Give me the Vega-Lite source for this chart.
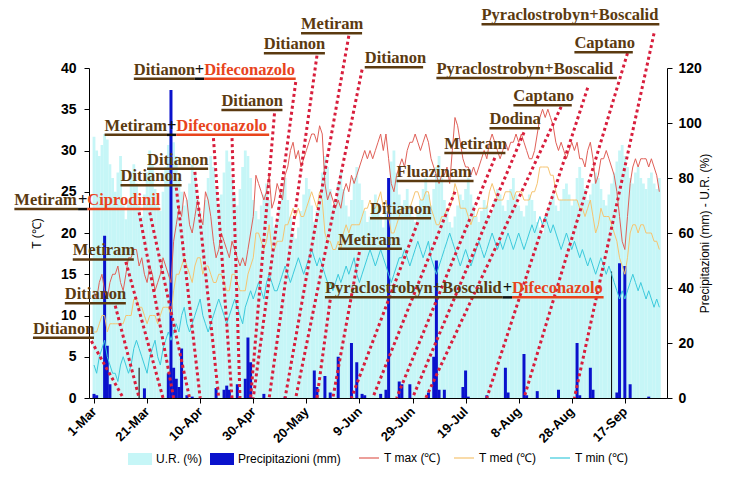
{
"$schema":"https://vega.github.io/schema/vega-lite/v6.json",
"width":578,"height":330,
"autosize":{"type":"none"},
"padding":{"left":89,"top":68,"right":68,"bottom":100},
"config":{
 "view":{"stroke":null},
 "font":"Liberation Sans",
 "axis":{"domainColor":"#000","tickColor":"#000","tickSize":5,"labelColor":"#000","labelFont":"Liberation Sans","labelFontWeight":"bold","labelFontSize":14,"titleFont":"Liberation Sans","titleFontWeight":"normal","titleFontSize":12,"titleColor":"#000","grid":false},
 "axisX":{"labelFontSize":13,"labelAngle":-45},
 "legend":{"labelFont":"Liberation Sans","labelFontSize":12,"labelColor":"#000"}
},
"datasets":{
"daily":[
{"date":"2009-03-01","tmax":13,"tmed":8,"tmin":4,"ur":95,"rain":1.5},
{"date":"2009-03-02","tmax":12,"tmed":8,"tmin":3,"ur":90,"rain":1},
{"date":"2009-03-03","tmax":14,"tmed":9,"tmin":5,"ur":88,"rain":0},
{"date":"2009-03-04","tmax":15,"tmed":10,"tmin":6,"ur":92,"rain":0},
{"date":"2009-03-05","tmax":13,"tmed":10,"tmin":7,"ur":96,"rain":59},
{"date":"2009-03-06","tmax":12,"tmed":8,"tmin":5,"ur":94,"rain":19},
{"date":"2009-03-07","tmax":14,"tmed":9,"tmin":4,"ur":85,"rain":5},
{"date":"2009-03-08","tmax":15,"tmed":9,"tmin":3,"ur":80,"rain":0},
{"date":"2009-03-09","tmax":15,"tmed":9,"tmin":3,"ur":75,"rain":0},
{"date":"2009-03-10","tmax":16,"tmed":9,"tmin":2,"ur":82,"rain":0},
{"date":"2009-03-11","tmax":14,"tmed":9,"tmin":4,"ur":88,"rain":0},
{"date":"2009-03-12","tmax":13,"tmed":9,"tmin":5,"ur":70,"rain":0},
{"date":"2009-03-13","tmax":15,"tmed":10,"tmin":4,"ur":65,"rain":0},
{"date":"2009-03-14","tmax":17,"tmed":10,"tmin":3,"ur":72,"rain":0},
{"date":"2009-03-15","tmax":17,"tmed":10,"tmin":4,"ur":80,"rain":0},
{"date":"2009-03-16","tmax":18,"tmed":12,"tmin":6,"ur":85,"rain":0},
{"date":"2009-03-17","tmax":18,"tmed":12,"tmin":7,"ur":78,"rain":0},
{"date":"2009-03-18","tmax":16,"tmed":11,"tmin":6,"ur":70,"rain":0},
{"date":"2009-03-19","tmax":17,"tmed":11,"tmin":5,"ur":66,"rain":0},
{"date":"2009-03-20","tmax":15,"tmed":10,"tmin":4,"ur":74,"rain":3.5},
{"date":"2009-03-21","tmax":14,"tmed":9,"tmin":3,"ur":82,"rain":0},
{"date":"2009-03-22","tmax":16,"tmed":10,"tmin":5,"ur":90,"rain":0},
{"date":"2009-03-23","tmax":15,"tmed":10,"tmin":6,"ur":85,"rain":0},
{"date":"2009-03-24","tmax":13,"tmed":10,"tmin":7,"ur":76,"rain":0},
{"date":"2009-03-25","tmax":14,"tmed":9,"tmin":5,"ur":70,"rain":0},
{"date":"2009-03-26","tmax":15,"tmed":10,"tmin":4,"ur":68,"rain":0},
{"date":"2009-03-27","tmax":17,"tmed":11,"tmin":6,"ur":75,"rain":0},
{"date":"2009-03-28","tmax":16,"tmed":11,"tmin":7,"ur":84,"rain":0},
{"date":"2009-03-29","tmax":15,"tmed":11,"tmin":8,"ur":92,"rain":9},
{"date":"2009-03-30","tmax":14,"tmed":10,"tmin":7,"ur":96,"rain":112},
{"date":"2009-03-31","tmax":19,"tmed":13,"tmin":8,"ur":93,"rain":11},
{"date":"2009-04-01","tmax":21,"tmed":15,"tmin":9,"ur":88,"rain":7},
{"date":"2009-04-02","tmax":23,"tmed":15,"tmin":8,"ur":80,"rain":4},
{"date":"2009-04-03","tmax":22,"tmed":16,"tmin":10,"ur":75,"rain":18},
{"date":"2009-04-04","tmax":25,"tmed":17,"tmin":11,"ur":70,"rain":0},
{"date":"2009-04-05","tmax":24,"tmed":16,"tmin":9,"ur":72,"rain":1},
{"date":"2009-04-06","tmax":21,"tmed":15,"tmin":8,"ur":78,"rain":0},
{"date":"2009-04-07","tmax":20,"tmed":14,"tmin":9,"ur":85,"rain":0.5},
{"date":"2009-04-08","tmax":22,"tmed":16,"tmin":10,"ur":82,"rain":0},
{"date":"2009-04-09","tmax":24,"tmed":17,"tmin":11,"ur":74,"rain":0},
{"date":"2009-04-10","tmax":22,"tmed":17,"tmin":12,"ur":68,"rain":0},
{"date":"2009-04-11","tmax":21,"tmed":15,"tmin":10,"ur":65,"rain":0},
{"date":"2009-04-12","tmax":25,"tmed":16,"tmin":9,"ur":72,"rain":0},
{"date":"2009-04-13","tmax":24,"tmed":16,"tmin":8,"ur":80,"rain":0},
{"date":"2009-04-14","tmax":22,"tmed":15,"tmin":9,"ur":88,"rain":0},
{"date":"2009-04-15","tmax":19,"tmed":14,"tmin":10,"ur":84,"rain":0},
{"date":"2009-04-16","tmax":17,"tmed":14,"tmin":11,"ur":76,"rain":3.6},
{"date":"2009-04-17","tmax":18,"tmed":15,"tmin":12,"ur":70,"rain":0},
{"date":"2009-04-18","tmax":20,"tmed":15,"tmin":11,"ur":74,"rain":0},
{"date":"2009-04-19","tmax":19,"tmed":14,"tmin":10,"ur":82,"rain":3},
{"date":"2009-04-20","tmax":18,"tmed":13,"tmin":9,"ur":90,"rain":4.5},
{"date":"2009-04-21","tmax":17,"tmed":13,"tmin":10,"ur":86,"rain":3},
{"date":"2009-04-22","tmax":19,"tmed":15,"tmin":11,"ur":80,"rain":0},
{"date":"2009-04-23","tmax":18,"tmed":15,"tmin":12,"ur":74,"rain":0},
{"date":"2009-04-24","tmax":17,"tmed":14,"tmin":11,"ur":70,"rain":5},
{"date":"2009-04-25","tmax":16,"tmed":13,"tmin":10,"ur":76,"rain":0},
{"date":"2009-04-26","tmax":17,"tmed":13,"tmin":9,"ur":84,"rain":0},
{"date":"2009-04-27","tmax":16,"tmed":13,"tmin":11,"ur":90,"rain":7},
{"date":"2009-04-28","tmax":18,"tmed":15,"tmin":12,"ur":88,"rain":22},
{"date":"2009-04-29","tmax":20,"tmed":16,"tmin":13,"ur":80,"rain":13},
{"date":"2009-04-30","tmax":22,"tmed":17,"tmin":12,"ur":72,"rain":0},
{"date":"2009-05-01","tmax":27,"tmed":20,"tmin":13,"ur":68,"rain":0},
{"date":"2009-05-02","tmax":26,"tmed":20,"tmin":14,"ur":65,"rain":0},
{"date":"2009-05-03","tmax":25,"tmed":19,"tmin":13,"ur":70,"rain":0},
{"date":"2009-05-04","tmax":24,"tmed":18,"tmin":12,"ur":74,"rain":1.5},
{"date":"2009-05-05","tmax":25,"tmed":19,"tmin":14,"ur":78,"rain":0},
{"date":"2009-05-06","tmax":27,"tmed":21,"tmin":15,"ur":72,"rain":0},
{"date":"2009-05-07","tmax":23,"tmed":18,"tmin":14,"ur":66,"rain":0},
{"date":"2009-05-08","tmax":24,"tmed":18,"tmin":13,"ur":62,"rain":0},
{"date":"2009-05-09","tmax":26,"tmed":19,"tmin":13,"ur":64,"rain":0},
{"date":"2009-05-10","tmax":25,"tmed":19,"tmin":14,"ur":70,"rain":0},
{"date":"2009-05-11","tmax":24,"tmed":19,"tmin":15,"ur":75,"rain":0},
{"date":"2009-05-12","tmax":27,"tmed":21,"tmin":16,"ur":80,"rain":0.5},
{"date":"2009-05-13","tmax":28,"tmed":21,"tmin":15,"ur":72,"rain":0},
{"date":"2009-05-14","tmax":30,"tmed":22,"tmin":14,"ur":66,"rain":0},
{"date":"2009-05-15","tmax":31,"tmed":23,"tmin":15,"ur":60,"rain":0},
{"date":"2009-05-16","tmax":29,"tmed":22,"tmin":16,"ur":58,"rain":0},
{"date":"2009-05-17","tmax":30,"tmed":23,"tmin":17,"ur":62,"rain":0},
{"date":"2009-05-18","tmax":28,"tmed":22,"tmin":16,"ur":68,"rain":0},
{"date":"2009-05-19","tmax":29,"tmed":22,"tmin":15,"ur":74,"rain":0},
{"date":"2009-05-20","tmax":30,"tmed":23,"tmin":16,"ur":80,"rain":0},
{"date":"2009-05-21","tmax":31,"tmed":24,"tmin":17,"ur":76,"rain":0},
{"date":"2009-05-22","tmax":32,"tmed":25,"tmin":18,"ur":70,"rain":0},
{"date":"2009-05-23","tmax":32,"tmed":24,"tmin":17,"ur":64,"rain":10},
{"date":"2009-05-24","tmax":31,"tmed":23,"tmin":16,"ur":68,"rain":4},
{"date":"2009-05-25","tmax":33,"tmed":25,"tmin":17,"ur":74,"rain":0},
{"date":"2009-05-26","tmax":32,"tmed":24,"tmin":16,"ur":82,"rain":0},
{"date":"2009-05-27","tmax":26,"tmed":20,"tmin":15,"ur":88,"rain":8},
{"date":"2009-05-28","tmax":24,"tmed":19,"tmin":14,"ur":84,"rain":0},
{"date":"2009-05-29","tmax":25,"tmed":19,"tmin":14,"ur":76,"rain":2},
{"date":"2009-05-30","tmax":24,"tmed":18,"tmin":13,"ur":70,"rain":0},
{"date":"2009-05-31","tmax":23,"tmed":18,"tmin":14,"ur":72,"rain":0},
{"date":"2009-06-01","tmax":24,"tmed":19,"tmin":15,"ur":78,"rain":15},
{"date":"2009-06-02","tmax":23,"tmed":18,"tmin":14,"ur":82,"rain":0},
{"date":"2009-06-03","tmax":25,"tmed":20,"tmin":15,"ur":76,"rain":0},
{"date":"2009-06-04","tmax":26,"tmed":21,"tmin":16,"ur":70,"rain":0},
{"date":"2009-06-05","tmax":25,"tmed":20,"tmin":15,"ur":66,"rain":0},
{"date":"2009-06-06","tmax":27,"tmed":21,"tmin":16,"ur":72,"rain":20},
{"date":"2009-06-07","tmax":26,"tmed":21,"tmin":17,"ur":80,"rain":0},
{"date":"2009-06-08","tmax":27,"tmed":21,"tmin":15,"ur":84,"rain":13},
{"date":"2009-06-09","tmax":28,"tmed":21,"tmin":14,"ur":78,"rain":0},
{"date":"2009-06-10","tmax":29,"tmed":22,"tmin":15,"ur":72,"rain":1.5},
{"date":"2009-06-11","tmax":30,"tmed":23,"tmin":16,"ur":68,"rain":1},
{"date":"2009-06-12","tmax":29,"tmed":23,"tmin":17,"ur":64,"rain":0},
{"date":"2009-06-13","tmax":30,"tmed":24,"tmin":18,"ur":66,"rain":0},
{"date":"2009-06-14","tmax":29,"tmed":23,"tmin":17,"ur":70,"rain":0},
{"date":"2009-06-15","tmax":30,"tmed":23,"tmin":16,"ur":74,"rain":0},
{"date":"2009-06-16","tmax":31,"tmed":24,"tmin":17,"ur":70,"rain":0},
{"date":"2009-06-17","tmax":32,"tmed":25,"tmin":18,"ur":66,"rain":1.5},
{"date":"2009-06-18","tmax":30,"tmed":23,"tmin":17,"ur":62,"rain":0},
{"date":"2009-06-19","tmax":32,"tmed":24,"tmin":16,"ur":68,"rain":3},
{"date":"2009-06-20","tmax":29,"tmed":22,"tmin":15,"ur":76,"rain":80},
{"date":"2009-06-21","tmax":26,"tmed":20,"tmin":14,"ur":86,"rain":0},
{"date":"2009-06-22","tmax":25,"tmed":20,"tmin":15,"ur":90,"rain":0},
{"date":"2009-06-23","tmax":27,"tmed":21,"tmin":16,"ur":82,"rain":0},
{"date":"2009-06-24","tmax":28,"tmed":22,"tmin":17,"ur":74,"rain":6},
{"date":"2009-06-25","tmax":29,"tmed":23,"tmin":17,"ur":70,"rain":5},
{"date":"2009-06-26","tmax":28,"tmed":23,"tmin":18,"ur":72,"rain":0},
{"date":"2009-06-27","tmax":30,"tmed":23,"tmin":17,"ur":76,"rain":0},
{"date":"2009-06-28","tmax":31,"tmed":23,"tmin":16,"ur":70,"rain":5},
{"date":"2009-06-29","tmax":31,"tmed":24,"tmin":17,"ur":66,"rain":0},
{"date":"2009-06-30","tmax":32,"tmed":25,"tmin":18,"ur":64,"rain":0},
{"date":"2009-07-01","tmax":31,"tmed":25,"tmin":19,"ur":68,"rain":0},
{"date":"2009-07-02","tmax":30,"tmed":24,"tmin":18,"ur":72,"rain":0},
{"date":"2009-07-03","tmax":31,"tmed":24,"tmin":17,"ur":76,"rain":0},
{"date":"2009-07-04","tmax":32,"tmed":25,"tmin":18,"ur":80,"rain":0},
{"date":"2009-07-05","tmax":31,"tmed":25,"tmin":19,"ur":74,"rain":2},
{"date":"2009-07-06","tmax":29,"tmed":23,"tmin":17,"ur":70,"rain":0},
{"date":"2009-07-07","tmax":28,"tmed":22,"tmin":16,"ur":76,"rain":15},
{"date":"2009-07-08","tmax":27,"tmed":21,"tmin":15,"ur":84,"rain":50},
{"date":"2009-07-09","tmax":26,"tmed":21,"tmin":16,"ur":88,"rain":3},
{"date":"2009-07-10","tmax":27,"tmed":22,"tmin":17,"ur":80,"rain":0},
{"date":"2009-07-11","tmax":27,"tmed":22,"tmin":18,"ur":72,"rain":3},
{"date":"2009-07-12","tmax":28,"tmed":23,"tmin":19,"ur":68,"rain":0},
{"date":"2009-07-13","tmax":26,"tmed":23,"tmin":20,"ur":64,"rain":0},
{"date":"2009-07-14","tmax":30,"tmed":24,"tmin":19,"ur":62,"rain":0},
{"date":"2009-07-15","tmax":34,"tmed":26,"tmin":18,"ur":66,"rain":0},
{"date":"2009-07-16","tmax":33,"tmed":25,"tmin":17,"ur":70,"rain":0},
{"date":"2009-07-17","tmax":31,"tmed":23,"tmin":16,"ur":74,"rain":0},
{"date":"2009-07-18","tmax":29,"tmed":23,"tmin":17,"ur":72,"rain":4},
{"date":"2009-07-19","tmax":28,"tmed":23,"tmin":18,"ur":76,"rain":10},
{"date":"2009-07-20","tmax":28,"tmed":22,"tmin":17,"ur":80,"rain":0.5},
{"date":"2009-07-21","tmax":27,"tmed":21,"tmin":16,"ur":74,"rain":0},
{"date":"2009-07-22","tmax":28,"tmed":22,"tmin":17,"ur":70,"rain":0},
{"date":"2009-07-23","tmax":27,"tmed":22,"tmin":18,"ur":66,"rain":0},
{"date":"2009-07-24","tmax":28,"tmed":23,"tmin":19,"ur":64,"rain":0},
{"date":"2009-07-25","tmax":29,"tmed":23,"tmin":18,"ur":68,"rain":0},
{"date":"2009-07-26","tmax":30,"tmed":23,"tmin":17,"ur":72,"rain":0},
{"date":"2009-07-27","tmax":29,"tmed":23,"tmin":18,"ur":70,"rain":1},
{"date":"2009-07-28","tmax":31,"tmed":25,"tmin":19,"ur":66,"rain":0},
{"date":"2009-07-29","tmax":32,"tmed":26,"tmin":20,"ur":68,"rain":0},
{"date":"2009-07-30","tmax":31,"tmed":25,"tmin":19,"ur":72,"rain":0},
{"date":"2009-07-31","tmax":30,"tmed":24,"tmin":18,"ur":76,"rain":0},
{"date":"2009-08-01","tmax":29,"tmed":24,"tmin":19,"ur":74,"rain":0},
{"date":"2009-08-02","tmax":30,"tmed":24,"tmin":18,"ur":70,"rain":0},
{"date":"2009-08-03","tmax":31,"tmed":25,"tmin":19,"ur":68,"rain":11},
{"date":"2009-08-04","tmax":30,"tmed":25,"tmin":20,"ur":72,"rain":2},
{"date":"2009-08-05","tmax":31,"tmed":25,"tmin":19,"ur":76,"rain":0},
{"date":"2009-08-06","tmax":31,"tmed":24,"tmin":18,"ur":80,"rain":0},
{"date":"2009-08-07","tmax":32,"tmed":25,"tmin":19,"ur":74,"rain":0},
{"date":"2009-08-08","tmax":31,"tmed":25,"tmin":20,"ur":70,"rain":0},
{"date":"2009-08-09","tmax":32,"tmed":25,"tmin":19,"ur":68,"rain":0},
{"date":"2009-08-10","tmax":31,"tmed":24,"tmin":18,"ur":66,"rain":16},
{"date":"2009-08-11","tmax":30,"tmed":24,"tmin":19,"ur":70,"rain":1},
{"date":"2009-08-12","tmax":29,"tmed":24,"tmin":20,"ur":74,"rain":0},
{"date":"2009-08-13","tmax":29,"tmed":25,"tmin":21,"ur":72,"rain":0},
{"date":"2009-08-14","tmax":30,"tmed":25,"tmin":20,"ur":68,"rain":0},
{"date":"2009-08-15","tmax":32,"tmed":26,"tmin":21,"ur":64,"rain":2.5},
{"date":"2009-08-16","tmax":34,"tmed":28,"tmin":22,"ur":62,"rain":0},
{"date":"2009-08-17","tmax":35,"tmed":28,"tmin":21,"ur":60,"rain":0},
{"date":"2009-08-18","tmax":34,"tmed":28,"tmin":22,"ur":64,"rain":0},
{"date":"2009-08-19","tmax":35,"tmed":28,"tmin":21,"ur":68,"rain":0},
{"date":"2009-08-20","tmax":34,"tmed":27,"tmin":20,"ur":72,"rain":0},
{"date":"2009-08-21","tmax":33,"tmed":27,"tmin":21,"ur":74,"rain":0},
{"date":"2009-08-22","tmax":31,"tmed":25,"tmin":20,"ur":70,"rain":0},
{"date":"2009-08-23","tmax":30,"tmed":24,"tmin":19,"ur":68,"rain":3},
{"date":"2009-08-24","tmax":31,"tmed":24,"tmin":18,"ur":72,"rain":0},
{"date":"2009-08-25","tmax":30,"tmed":24,"tmin":19,"ur":76,"rain":0},
{"date":"2009-08-26","tmax":29,"tmed":24,"tmin":20,"ur":78,"rain":0},
{"date":"2009-08-27","tmax":30,"tmed":24,"tmin":19,"ur":74,"rain":0},
{"date":"2009-08-28","tmax":31,"tmed":24,"tmin":18,"ur":70,"rain":0},
{"date":"2009-08-29","tmax":30,"tmed":24,"tmin":19,"ur":72,"rain":0},
{"date":"2009-08-30","tmax":31,"tmed":24,"tmin":18,"ur":80,"rain":20},
{"date":"2009-08-31","tmax":29,"tmed":23,"tmin":17,"ur":84,"rain":1},
{"date":"2009-09-01","tmax":29,"tmed":23,"tmin":18,"ur":80,"rain":0},
{"date":"2009-09-02","tmax":28,"tmed":22,"tmin":17,"ur":76,"rain":0},
{"date":"2009-09-03","tmax":30,"tmed":23,"tmin":16,"ur":72,"rain":0},
{"date":"2009-09-04","tmax":31,"tmed":24,"tmin":17,"ur":74,"rain":11},
{"date":"2009-09-05","tmax":29,"tmed":22,"tmin":16,"ur":78,"rain":3},
{"date":"2009-09-06","tmax":26,"tmed":20,"tmin":15,"ur":82,"rain":0},
{"date":"2009-09-07","tmax":27,"tmed":21,"tmin":16,"ur":80,"rain":0},
{"date":"2009-09-08","tmax":29,"tmed":23,"tmin":17,"ur":76,"rain":0},
{"date":"2009-09-09","tmax":29,"tmed":22,"tmin":16,"ur":72,"rain":0},
{"date":"2009-09-10","tmax":30,"tmed":22,"tmin":15,"ur":70,"rain":0},
{"date":"2009-09-11","tmax":29,"tmed":22,"tmin":16,"ur":74,"rain":0},
{"date":"2009-09-12","tmax":28,"tmed":21,"tmin":15,"ur":78,"rain":0},
{"date":"2009-09-13","tmax":27,"tmed":20,"tmin":14,"ur":82,"rain":0},
{"date":"2009-09-14","tmax":25,"tmed":19,"tmin":13,"ur":86,"rain":2},
{"date":"2009-09-15","tmax":22,"tmed":17,"tmin":12,"ur":90,"rain":49},
{"date":"2009-09-16","tmax":19,"tmed":16,"tmin":13,"ur":92,"rain":0},
{"date":"2009-09-17","tmax":18,"tmed":15,"tmin":12,"ur":88,"rain":48},
{"date":"2009-09-18","tmax":22,"tmed":17,"tmin":13,"ur":84,"rain":0},
{"date":"2009-09-19","tmax":26,"tmed":20,"tmin":14,"ur":80,"rain":5},
{"date":"2009-09-20","tmax":28,"tmed":21,"tmin":15,"ur":78,"rain":0},
{"date":"2009-09-21","tmax":29,"tmed":21,"tmin":14,"ur":82,"rain":0},
{"date":"2009-09-22","tmax":28,"tmed":20,"tmin":13,"ur":84,"rain":0},
{"date":"2009-09-23","tmax":29,"tmed":21,"tmin":14,"ur":80,"rain":0},
{"date":"2009-09-24","tmax":29,"tmed":21,"tmin":13,"ur":78,"rain":0},
{"date":"2009-09-25","tmax":29,"tmed":20,"tmin":12,"ur":76,"rain":0},
{"date":"2009-09-26","tmax":28,"tmed":20,"tmin":13,"ur":80,"rain":0.5},
{"date":"2009-09-27","tmax":29,"tmed":20,"tmin":12,"ur":82,"rain":0},
{"date":"2009-09-28","tmax":28,"tmed":19,"tmin":11,"ur":78,"rain":0},
{"date":"2009-09-29","tmax":27,"tmed":19,"tmin":12,"ur":76,"rain":0},
{"date":"2009-09-30","tmax":25,"tmed":18,"tmin":11,"ur":80,"rain":0}
],
"marks":[
{"date":"2009-03-18","value":11},
{"date":"2009-09-12","value":46}
],
"treat":[
{"from":"2009-02-28","fromT":6.9,"to":"2009-03-12"},
{"from":"2009-03-09","fromT":11.2,"to":"2009-03-18"},
{"from":"2009-03-13","fromT":16.5,"to":"2009-03-27"},
{"from":"2009-03-18","fromT":22.5,"to":"2009-03-31"},
{"from":"2009-03-22","fromT":22.5,"to":"2009-04-06"},
{"from":"2009-04-01","fromT":25.5,"to":"2009-04-10"},
{"from":"2009-04-08","fromT":27.4,"to":"2009-04-17"},
{"from":"2009-04-15","fromT":31.5,"to":"2009-04-22"},
{"from":"2009-04-22","fromT":31.5,"to":"2009-04-25"},
{"from":"2009-05-08","fromT":34.5,"to":"2009-04-29"},
{"from":"2009-05-16","fromT":38.3,"to":"2009-04-30"},
{"from":"2009-05-24","fromT":41.5,"to":"2009-05-06"},
{"from":"2009-06-05","fromT":43.9,"to":"2009-05-12"},
{"from":"2009-06-10","fromT":39.8,"to":"2009-05-16"},
{"from":"2009-05-29","fromT":11.9,"to":"2009-05-24"},
{"from":"2009-06-09","fromT":17.7,"to":"2009-05-30"},
{"from":"2009-07-01","fromT":21.3,"to":"2009-06-06"},
{"from":"2009-07-15","fromT":25.0,"to":"2009-06-14"},
{"from":"2009-07-30","fromT":29.1,"to":"2009-06-23"},
{"from":"2009-08-10","fromT":32.2,"to":"2009-06-29"},
{"from":"2009-08-24","fromT":35.3,"to":"2009-07-04"},
{"from":"2009-09-03","fromT":37.6,"to":"2009-07-27"},
{"from":"2009-09-18","fromT":41.8,"to":"2009-08-10"},
{"from":"2009-09-28","fromT":44.2,"to":"2009-08-29"}
],
"labels":[
{"label":"Metiram","kind":"b","start":"2009-05-18","end":"2009-06-10","level":44.2},
{"label":"Ditianon","kind":"b","start":"2009-05-04","end":"2009-05-27","level":41.8},
{"label":"Ditianon","kind":"b","start":"2009-03-16","end":"2009-04-08","level":38.7},
{"label":"+","kind":"k","start":"2009-04-08","end":"2009-04-11T12:00:00Z","level":38.7},
{"label":"Difeconazolo","kind":"r","start":"2009-04-11T12:00:00Z","end":"2009-05-16","level":38.7},
{"label":"Ditianon","kind":"b","start":"2009-04-18","end":"2009-05-11","level":34.9},
{"label":"Metiram","kind":"b","start":"2009-03-05","end":"2009-03-28T12:00:00Z","level":31.9},
{"label":"+","kind":"k","start":"2009-03-28T12:00:00Z","end":"2009-04-01","level":31.9},
{"label":"Difeconazolo","kind":"r","start":"2009-04-01","end":"2009-05-06","level":31.9},
{"label":"Ditianon","kind":"b","start":"2009-03-21","end":"2009-04-13","level":27.8},
{"label":"Ditianon","kind":"b","start":"2009-03-11","end":"2009-04-03","level":25.8},
{"label":"Ditianon","kind":"b","start":"2009-06-11","end":"2009-07-03","level":40.1},
{"label":"Pyraclostrobyn+Boscalid","kind":"b","start":"2009-07-25","end":"2009-09-30","level":45.3},
{"label":"Captano","kind":"b","start":"2009-08-29","end":"2009-09-20","level":41.9},
{"label":"Pyraclostrobyn+Boscalid","kind":"b","start":"2009-07-08","end":"2009-09-14","level":38.8},
{"label":"Captano","kind":"b","start":"2009-08-06","end":"2009-08-28","level":35.5},
{"label":"Dodina","kind":"b","start":"2009-07-28","end":"2009-08-16","level":32.7},
{"label":"Metiram","kind":"b","start":"2009-07-11","end":"2009-08-03","level":29.7},
{"label":"Fluazinam","kind":"b","start":"2009-06-23","end":"2009-07-22","level":26.3},
{"label":"Ditianon","kind":"b","start":"2009-06-13","end":"2009-07-06","level":21.8},
{"label":"Metiram","kind":"b","start":"2009-06-01","end":"2009-06-25","level":18.1},
{"label":"Pyraclostrobyn+Boscalid","kind":"b","start":"2009-05-27","end":"2009-08-02","level":12.2},
{"label":"+","kind":"k","start":"2009-08-02","end":"2009-08-05T12:00:00Z","level":12.2},
{"label":"Difeconazolo","kind":"r","start":"2009-08-05T12:00:00Z","end":"2009-09-09","level":12.2},
{"label":"Metiram","kind":"b","start":"2009-01-30","end":"2009-02-23","level":22.9},
{"label":"+","kind":"k","start":"2009-02-23","end":"2009-02-26T12:00:00Z","level":22.9},
{"label":"Ciprodinil","kind":"r","start":"2009-02-26T12:00:00Z","end":"2009-03-26","level":22.9},
{"label":"Metiram","kind":"b","start":"2009-02-21","end":"2009-03-16","level":16.8},
{"label":"Ditianon","kind":"b","start":"2009-02-18","end":"2009-03-13","level":11.5},
{"label":"Ditianon","kind":"b","start":"2009-02-06","end":"2009-03-01","level":7.3}
]
},
"layer":[
 {"layer":[
  {"data":{"name":"daily"},
   "mark":{"type":"bar","width":2.8},
   "encoding":{
    "x":{"field":"date","type":"temporal","title":null,
     "scale":{"type":"utc","domain":[{"year":2009,"month":3,"date":1,"utc":true},{"year":2009,"month":10,"date":1,"utc":true}]},
     "axis":{"values":[
      {"year":2009,"month":3,"date":1,"utc":true},{"year":2009,"month":3,"date":11,"utc":true},{"year":2009,"month":3,"date":21,"utc":true},{"year":2009,"month":3,"date":31,"utc":true},
      {"year":2009,"month":4,"date":10,"utc":true},{"year":2009,"month":4,"date":20,"utc":true},{"year":2009,"month":4,"date":30,"utc":true},
      {"year":2009,"month":5,"date":10,"utc":true},{"year":2009,"month":5,"date":20,"utc":true},{"year":2009,"month":5,"date":30,"utc":true},
      {"year":2009,"month":6,"date":9,"utc":true},{"year":2009,"month":6,"date":19,"utc":true},{"year":2009,"month":6,"date":29,"utc":true},
      {"year":2009,"month":7,"date":9,"utc":true},{"year":2009,"month":7,"date":19,"utc":true},{"year":2009,"month":7,"date":29,"utc":true},
      {"year":2009,"month":8,"date":8,"utc":true},{"year":2009,"month":8,"date":18,"utc":true},{"year":2009,"month":8,"date":28,"utc":true},
      {"year":2009,"month":9,"date":7,"utc":true},{"year":2009,"month":9,"date":17,"utc":true},{"year":2009,"month":9,"date":27,"utc":true}],
      "labelExpr":"(round((datum.value - utc(2009,2,1)) / 86400000) % 20 == 0) ? utcFormat(datum.value, '%-d-%b') : ''",
      "labelOverlap":false,"labelBound":false,"labelPadding":6,"labelAlign":"right","labelBaseline":"middle"}},
    "y":{"field":"ur","type":"quantitative","title":"Precipitazioni (mm) - U.R. (%)",
     "scale":{"domain":[0,120],"nice":false},
     "axis":{"orient":"right","values":[0,20,40,60,80,100,120],"titlePadding":10,"titleAngle":270,"labelPadding":6}},
    "color":{"datum":"U.R. (%)","scale":{"domain":["U.R. (%)","Precipitazioni (mm)"],"range":["#c6f6f7","#0a12cc"]},
     "legend":{"orient":"none","legendX":39,"legendY":379,"direction":"horizontal","columns":2,"title":null,"symbolType":"M-1,-0.5H1V0.5H-1Z","symbolSize":576,"symbolStrokeWidth":0,"columnPadding":8,"labelFontSize":12}}
   }},
  {"data":{"name":"daily"},
   "mark":{"type":"bar","width":3},
   "encoding":{
    "x":{"field":"date","type":"temporal","title":null},
    "y":{"field":"rain","type":"quantitative","title":"Precipitazioni (mm) - U.R. (%)"},
    "color":{"datum":"Precipitazioni (mm)"}
   }},
  {"data":{"name":"marks"},
   "mark":{"type":"rule","color":"#000","strokeWidth":1},
   "encoding":{
    "x":{"field":"date","type":"temporal","title":null},
    "y":{"field":"value","type":"quantitative","title":"Precipitazioni (mm) - U.R. (%)"},
    "y2":{"datum":0}
   }}
 ]},
 {"layer":[
  {"data":{"name":"daily"},
   "mark":{"type":"line","strokeWidth":1},
   "encoding":{
    "x":{"field":"date","type":"temporal","title":null},
    "y":{"field":"tmax","type":"quantitative","title":"T (℃)",
     "scale":{"domain":[0,40],"nice":false},
     "axis":{"orient":"left","values":[0,5,10,15,20,25,30,35,40],"titlePadding":17,"labelPadding":8}},
    "stroke":{"datum":"T max (℃)","scale":{"domain":["T max (℃)","T med (℃)","T min (℃)"],"range":["#e06058","#f6c470","#3ccadc"]},
     "legend":{"orient":"none","legendX":269,"legendY":379,"direction":"horizontal","columns":3,"title":null,"symbolType":"stroke","symbolSize":400,"symbolStrokeWidth":1.2,"columnPadding":10,"labelFontSize":12}}
   }},
  {"data":{"name":"daily"},
   "mark":{"type":"line","strokeWidth":1},
   "encoding":{
    "x":{"field":"date","type":"temporal","title":null},
    "y":{"field":"tmed","type":"quantitative","title":"T (℃)"},
    "stroke":{"datum":"T med (℃)"}
   }},
  {"data":{"name":"daily"},
   "mark":{"type":"line","strokeWidth":1},
   "encoding":{
    "x":{"field":"date","type":"temporal","title":null},
    "y":{"field":"tmin","type":"quantitative","title":"T (℃)"},
    "stroke":{"datum":"T min (℃)"}
   }},
  {"data":{"name":"treat"},
   "mark":{"type":"rule","color":"#d81e3c","strokeWidth":3,"strokeDash":[3,3]},
   "encoding":{
    "x":{"field":"from","type":"temporal","title":null},
    "y":{"field":"fromT","type":"quantitative","title":"T (℃)"},
    "x2":{"field":"to"},
    "y2":{"datum":0}
   }},
  {"data":{"name":"labels"},
   "mark":{"type":"rule","strokeWidth":2.5},
   "encoding":{
    "x":{"field":"start","type":"temporal","title":null},
    "x2":{"field":"end"},
    "y":{"field":"level","type":"quantitative","title":"T (℃)"},
    "color":{"field":"kind","type":"nominal","scale":{"domain":["b","r","k"],"range":["#5b3a10","#e8441c","#111111"]},"legend":null}
   }},
  {"data":{"name":"labels"},
   "mark":{"type":"text","align":"left","baseline":"alphabetic","dy":-4,"font":"Liberation Serif","fontWeight":"bold","fontSize":16.5},
   "encoding":{
    "x":{"field":"start","type":"temporal","title":null},
    "y":{"field":"level","type":"quantitative","title":"T (℃)"},
    "text":{"field":"label"},
    "color":{"field":"kind","type":"nominal","legend":null}
   }}
 ]}
],
"resolve":{"scale":{"y":"independent","color":"independent"}}
}
